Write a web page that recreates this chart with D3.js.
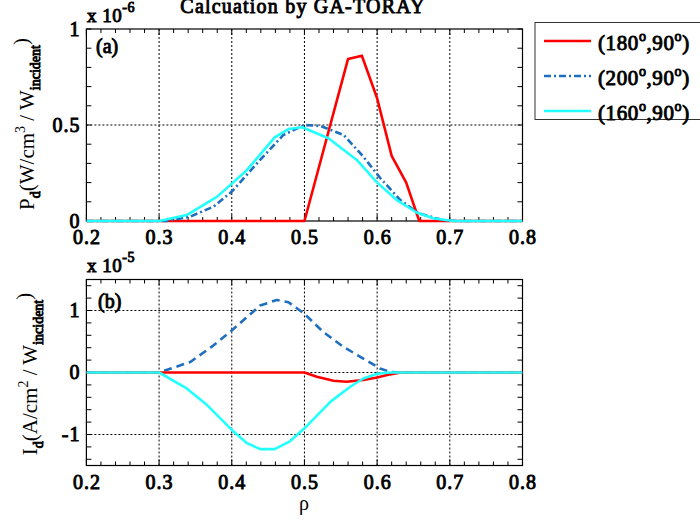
<!DOCTYPE html>
<html>
<head>
<meta charset="utf-8">
<script src="https://cdn.jsdelivr.net/npm/d3@7"></script>
<style>
body { margin: 0; background: #fff; }
/* bold serif face is not matched here, so thicken the regular one */
.bold { font-weight: normal; stroke: #000; stroke-width: 0.9px; }
</style>
</head>
<body>
<div id="root"></div>
<script>
var width = 700;
var height = 521;
var serif = "'Liberation Serif', Tinos, 'Times New Roman', Times, serif";

// panel (a): power deposition, units 1e-6
var rhoRedA = [0.2, 0.5, 0.56, 0.579, 0.6, 0.62, 0.64, 0.658, 0.8];
var pRed = [0, 0, 0.844, 0.861, 0.639, 0.339, 0.20, 0, 0];
var rhoBlueA = [0.2, 0.31, 0.343, 0.375, 0.4, 0.439, 0.471, 0.5, 0.522, 0.554, 0.581, 0.604, 0.632, 0.657, 0.69, 0.71, 0.8];
var pBlue = [0, 0, 0.023, 0.075, 0.153, 0.318, 0.448, 0.5, 0.495, 0.448, 0.335, 0.225, 0.109, 0.04, 0.005, 0, 0];
var rhoCyanA = [0.2, 0.3, 0.338, 0.38, 0.421, 0.459, 0.478, 0.497, 0.533, 0.572, 0.6, 0.627, 0.655, 0.677, 0.705, 0.8];
var pCyan = [0, 0, 0.031, 0.127, 0.266, 0.436, 0.479, 0.488, 0.431, 0.318, 0.2, 0.109, 0.043, 0.014, 0, 0];

// panel (b): driven current, units 1e-5
var rhoRedB = [0.2, 0.5, 0.517, 0.54, 0.558, 0.581, 0.6, 0.618, 0.632, 0.8];
var iRed = [0, 0, -0.07, -0.134, -0.15, -0.12, -0.08, -0.03, 0, 0];
var rhoBlueB = [0.2, 0.3, 0.343, 0.375, 0.4, 0.439, 0.462, 0.478, 0.5, 0.526, 0.554, 0.581, 0.604, 0.618, 0.63, 0.8];
var iBlue = [0, 0, 0.17, 0.438, 0.679, 1.08, 1.17, 1.133, 0.947, 0.652, 0.41, 0.225, 0.064, 0.01, 0, 0];
var rhoCyanB = [0.2, 0.3, 0.338, 0.366, 0.4, 0.421, 0.439, 0.459, 0.48, 0.5, 0.536, 0.563, 0.581, 0.6, 0.618, 0.8];
var iCyan = [0, 0, -0.257, -0.525, -0.926, -1.14, -1.236, -1.236, -1.11, -0.9, -0.47, -0.23, -0.097, -0.02, 0, 0];

var xTicks = [0.2, 0.3, 0.4, 0.5, 0.6, 0.7, 0.8];
var yTicksA = [0, 0.5, 1];
var yTicksB = [-1, 0, 1];
var legendLabels = ["180", "200", "160"];

var colRed = "#ff0000", colBlue = "#1f6fbf", colCyan = "#22ffff";

var svg = d3.select("#root")
  .append("svg")
  .attr("width", width)
  .attr("height", height)
  .attr("font-family", serif)
  .style("background", "#fff");

var x = d3.scaleLinear().domain([0.2, 0.8]).range([86.4, 522.5]);
var yA = d3.scaleLinear().domain([0, 1]).range([221, 29]);
var yB = d3.scaleLinear().domain([-1.5, 1.5]).range([465.5, 279.5]);

function zip(xs, ys) {
  return xs.map(function(v, i) { return [v, ys[i]]; });
}

function panel(y, yMajor, yMinor, id) {
  var g = svg.append("g");
  var x0 = x.range()[0], x1 = x.range()[1];
  var yb = y.range()[0], yt = y.range()[1];

  // dotted grid at major ticks
  g.selectAll(".gx").data(xTicks.slice(1, -1)).enter().append("line")
    .attr("x1", x).attr("x2", x).attr("y1", yt).attr("y2", yb)
    .attr("stroke", "#000").attr("stroke-width", 1).attr("stroke-dasharray", "2,2");
  g.selectAll(".gy").data(yMajor.filter(function(d) { return y(d) > yt + 1 && y(d) < yb - 1; })).enter().append("line")
    .attr("x1", x0).attr("x2", x1).attr("y1", y).attr("y2", y)
    .attr("stroke", "#000").attr("stroke-width", 1).attr("stroke-dasharray", "2,2");

  // inward ticks on all four sides
  var xMinor = d3.range(0.2, 0.8001, 0.02);
  [[yb, -1], [yt, 1]].forEach(function(s) {
    g.selectAll(null).data(xMinor).enter().append("line")
      .attr("x1", x).attr("x2", x)
      .attr("y1", s[0]).attr("y2", function(d) {
        var major = Math.abs(d * 10 - Math.round(d * 10)) < 1e-6;
        return s[0] + s[1] * (major ? 6 : 4);
      })
      .attr("stroke", "#000").attr("stroke-width", 1);
  });
  [[x0, 1], [x1, -1]].forEach(function(s) {
    g.selectAll(null).data(yMinor).enter().append("line")
      .attr("y1", y).attr("y2", y)
      .attr("x1", s[0]).attr("x2", function(d) { return s[0] + s[1] * 5; })
      .attr("stroke", "#000").attr("stroke-width", 1);
  });

  g.append("rect")
    .attr("x", x0).attr("y", yt).attr("width", x1 - x0).attr("height", yb - yt)
    .attr("fill", "none").attr("stroke", "#000").attr("stroke-width", 1.2);

  var xAxis = d3.axisBottom(x).tickValues(xTicks).tickSize(0).tickPadding(9)
    .tickFormat(d3.format(".1f"));
  g.append("g").attr("transform", "translate(0," + yb + ")").call(xAxis)
    .attr("font-family", serif)
    .call(function(a) { a.select(".domain").remove(); })
    .selectAll("text").attr("font-size", 20).attr("class", "bold").attr("letter-spacing", 1)
    .attr("fill", "#000");

  var yAxis = d3.axisLeft(y).tickValues(yMajor).tickSize(0).tickPadding(6)
    .tickFormat(function(d) { return d === 0.5 ? "0.5" : d < 0 ? "-" + Math.abs(d) : d; });
  g.append("g").attr("transform", "translate(" + x0 + ",0)").call(yAxis)
    .attr("font-family", serif)
    .call(function(a) { a.select(".domain").remove(); })
    .selectAll("text").attr("font-size", 20).attr("class", "bold").attr("letter-spacing", 1)
    .attr("fill", "#000");

  g.append("clipPath").attr("id", id).append("rect")
    .attr("x", x0).attr("y", yt - 2).attr("width", x1 - x0).attr("height", yb - yt + 4);
  return g;
}

function curve(g, pts, y, color, dash, id) {
  g.append("path")
    .datum(pts)
    .attr("clip-path", "url(#" + id + ")")
    .attr("fill", "none")
    .attr("stroke", color)
    .attr("stroke-width", 2.6)
    .attr("stroke-linejoin", "round")
    .attr("stroke-dasharray", dash)
    .attr("d", d3.line().x(function(d) { return x(d[0]); }).y(function(d) { return y(d[1]); }));
}

var gA = panel(yA, yTicksA, d3.range(0, 1.001, 0.1), "clipA");
curve(gA, zip(rhoRedA, pRed), yA, colRed, null, "clipA");
curve(gA, zip(rhoBlueA, pBlue), yA, colBlue, "7,3,2,3", "clipA");
curve(gA, zip(rhoCyanA, pCyan), yA, colCyan, null, "clipA");

var gB = panel(yB, yTicksB, d3.range(-1.4, 1.401, 0.2), "clipB");
curve(gB, zip(rhoBlueB, iBlue), yB, colBlue, "8,5", "clipB");
curve(gB, zip(rhoRedB, iRed), yB, colRed, null, "clipB");
curve(gB, zip(rhoCyanB, iCyan), yB, colCyan, null, "clipB");

// panel tags
svg.append("text").attr("class", "bold").attr("x", 96).attr("y", 53).attr("font-size", 20).text("(a)");
svg.append("text").attr("class", "bold").attr("x", 98).attr("y", 308).attr("font-size", 20).text("(b)");

// exponent labels
function expo(xp, yp, e) {
  var t = svg.append("text").attr("class", "bold").attr("x", xp).attr("y", yp).attr("font-size", 19)
    .attr("letter-spacing", 0.5);
  t.append("tspan").text("x 10");
  t.append("tspan").attr("font-size", 14).attr("dy", -10).text(e);
}
expo(87, 22, "-6");
expo(87, 272, "-5");

// title
svg.append("text").attr("class", "bold").attr("x", 303).attr("y", 13).attr("text-anchor", "middle")
  .attr("font-size", 20).attr("letter-spacing", 1.2).text("Calcuation by GA-TORAY");

// x label
svg.append("text").attr("x", 304).attr("y", 510).attr("text-anchor", "middle")
  .attr("font-size", 20).text("ρ");

// y labels with sub/superscripts
function ylabel(xp, yp, base, unit, pw) {
  var t = svg.append("text")
    .attr("transform", "translate(" + xp + "," + yp + ") rotate(-90)")
    .attr("text-anchor", "middle").attr("font-size", 21);
  t.append("tspan").text(base);
  t.append("tspan").attr("class", "bold").attr("font-size", 14).attr("dy", 6).text("d");
  t.append("tspan").attr("dy", -6).text("(" + unit + "/cm");
  t.append("tspan").attr("font-size", 14).attr("dy", -9).text(pw);
  t.append("tspan").attr("dy", 9).text(" / W");
  t.append("tspan").attr("class", "bold").attr("font-size", 14).attr("dy", 6).text("incident");
  t.append("tspan").attr("dy", -12).text(")");
}
ylabel(34, 124, "P", "W", "3");
ylabel(37, 374, "I", "A", "2");

// legend
var leg = svg.append("g");
leg.append("rect").attr("x", 535).attr("y", 22.5).attr("width", 170).attr("height", 97)
  .attr("fill", "#fff").attr("stroke", "#333").attr("stroke-width", 1);
var legColors = [colRed, colBlue, colCyan];
var legDash = [null, "7,3,2,3", null];
legendLabels.forEach(function(l, i) {
  var yy = 41 + i * 35;
  leg.append("line").attr("x1", 544).attr("x2", 591).attr("y1", yy).attr("y2", yy)
    .attr("stroke", legColors[i]).attr("stroke-width", 2.6).attr("stroke-dasharray", legDash[i]);
  var t = leg.append("text").attr("class", "bold").attr("x", 598).attr("y", yy + 9)
    .attr("font-size", 21).attr("letter-spacing", 0.6);
  t.append("tspan").text("(" + l);
  t.append("tspan").attr("font-size", 14).attr("dy", -9).text("o");
  t.append("tspan").attr("dy", 9).text(",90");
  t.append("tspan").attr("font-size", 14).attr("dy", -9).text("o");
  t.append("tspan").attr("dy", 9).text(")");
});
</script>
</body>
</html>
